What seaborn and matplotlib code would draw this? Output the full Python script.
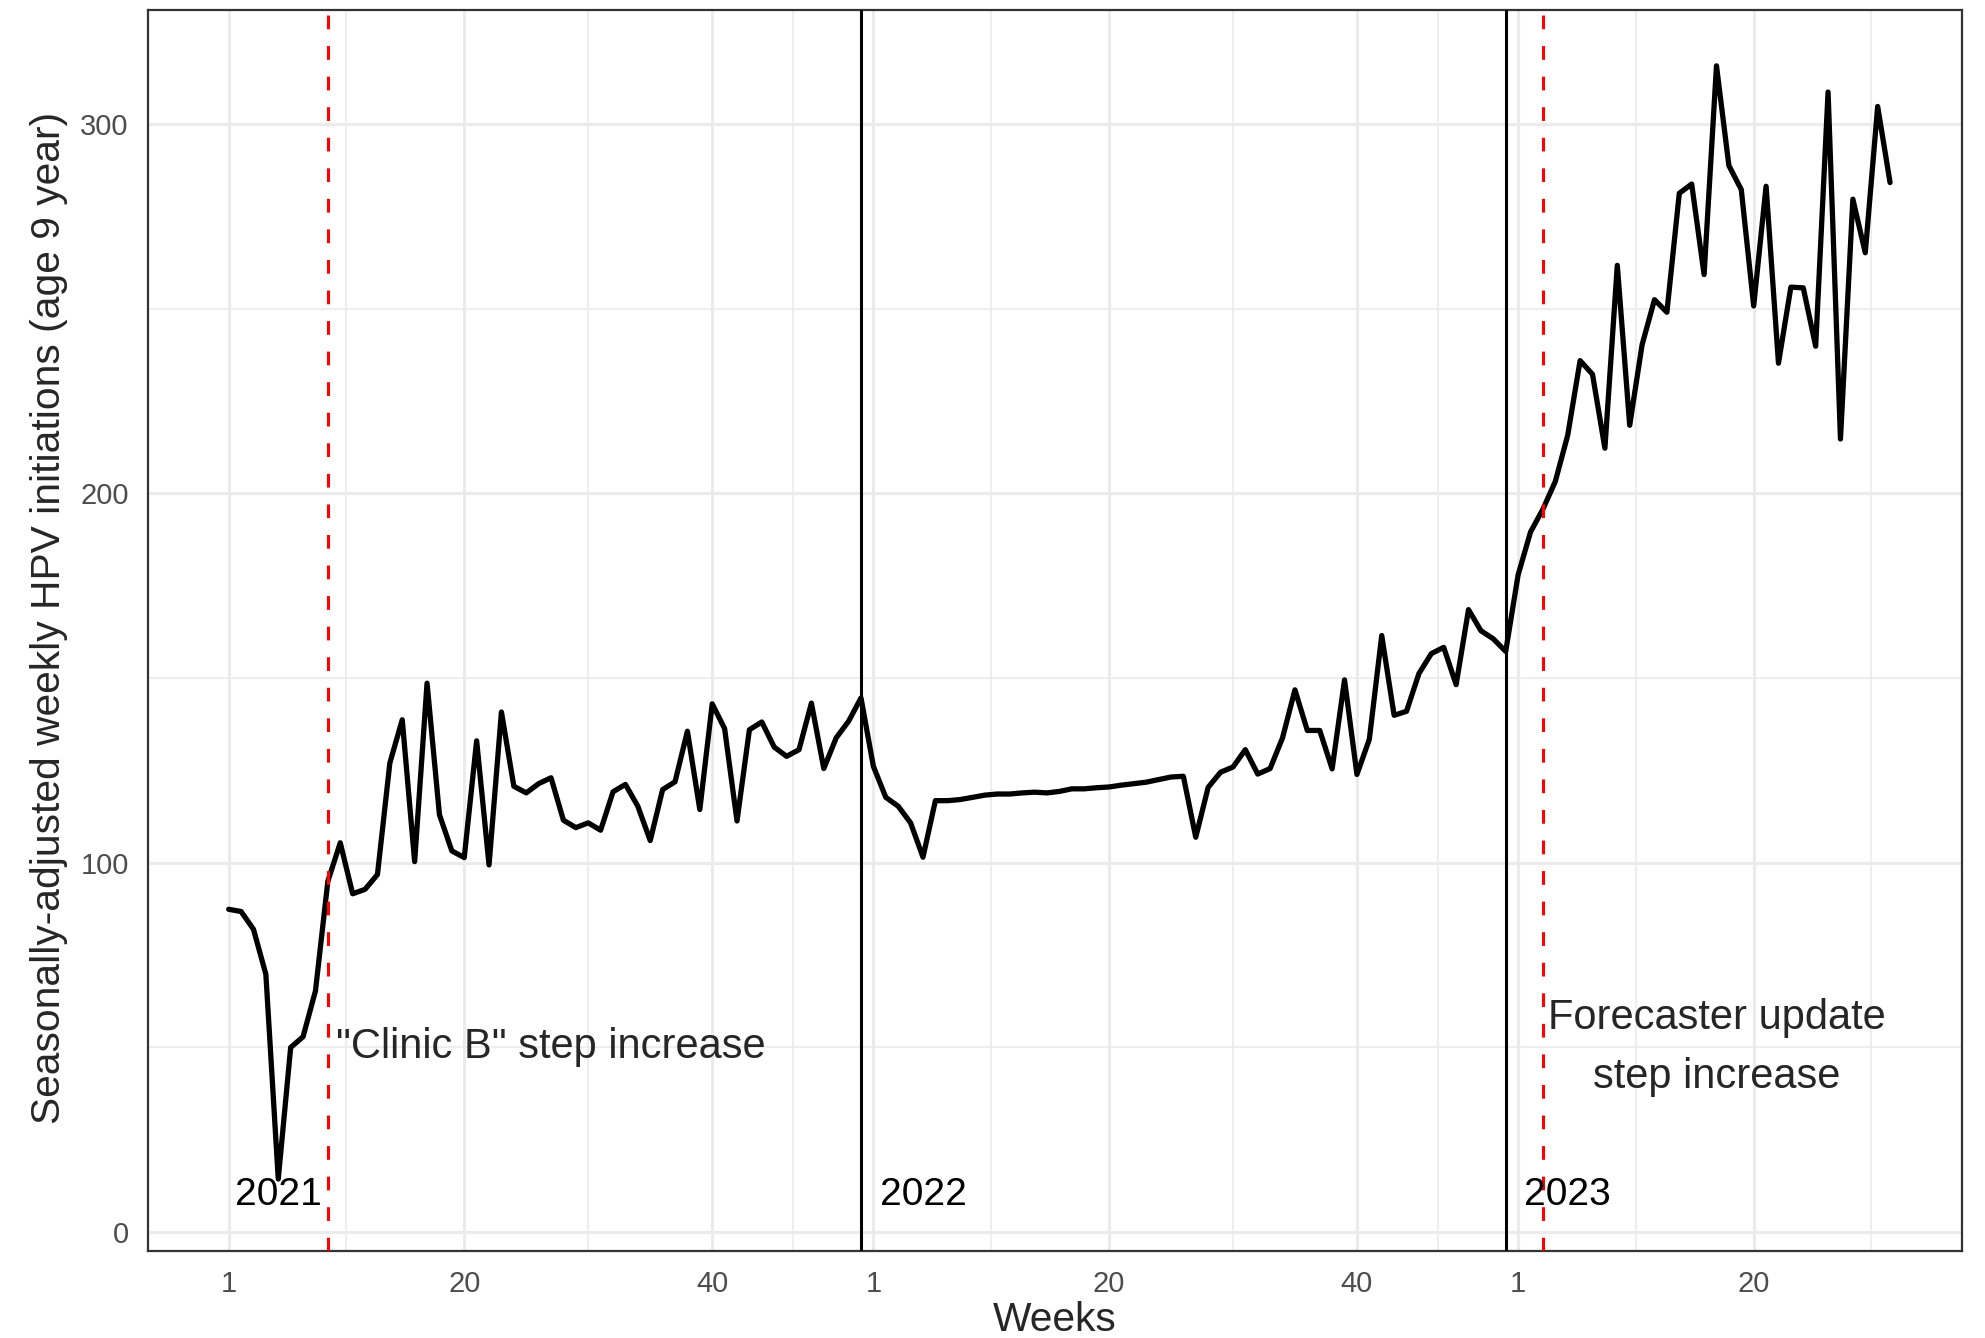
import numpy as np
import pandas as pd
import matplotlib
matplotlib.use("Agg")
import matplotlib.pyplot as plt
import seaborn as sns

sns.set_style("white")
plt.rcParams['font.family'] = ['Liberation Sans', 'DejaVu Sans']

# Weekly series: 2021 = weeks 1-52, 2022 = 53-104, 2023 = 105-135
week_index = np.arange(1, 136)
initiations = [
    87.4, 86.8, 82.0, 69.8, 14.4, 50.0, 52.9, 65.3, 95.0, 105.4,
    91.6, 92.8, 96.8, 127.0, 138.7, 100.3, 148.6, 113.0, 103.2, 101.4,
    133.0, 99.4, 140.8, 120.7, 118.9, 121.4, 123.0, 111.5, 109.5, 110.8,
    108.8, 119.2, 121.2, 115.3, 106.0, 119.8, 121.9, 135.6, 114.4, 143.0,
    136.3, 111.3, 136.0, 138.1, 131.3, 128.8, 130.6, 143.2, 125.5, 133.8,
    138.3, 144.6, 126.1, 117.7, 115.3, 110.8, 101.5, 116.8, 116.8, 117.1,
    117.7, 118.3, 118.6, 118.6, 118.9, 119.1, 118.9, 119.3, 120.0, 120.0,
    120.3, 120.5, 121.0, 121.4, 121.8, 122.5, 123.2, 123.4, 106.9, 120.4,
    124.5, 125.9, 130.6, 124.0, 125.5, 133.8, 146.8, 135.8, 135.8, 125.4,
    149.5, 123.9, 133.4, 161.5, 139.9, 141.0, 151.2, 156.6, 158.3, 148.2,
    168.5, 162.8, 160.6, 157.2, 177.9, 189.5, 195.7, 203.2, 215.7, 235.9,
    232.2, 212.2, 261.7, 218.4, 240.2, 252.4, 249.0, 281.2, 283.7, 259.2,
    315.7, 288.7, 282.2, 250.7, 283.1, 235.2, 255.8, 255.6, 239.8, 308.6,
    214.7, 279.6, 265.1, 304.7, 284.1,
]

tick_pos = [1, 20, 40, 53, 72, 92, 105, 124]
tick_labels = ['1', '20', '40', '1', '20', '40', '1', '20']
minor_x = [10.5, 30, 46.5, 62.5, 82, 98.5, 114.5, 133.5]

year_breaks = [52, 104]
step_lines = [9, 107]
year_labels = ['2021', '2022', '2023']
year_label_x = [5, 57, 109]

df = pd.DataFrame({'week': week_index, 'value': initiations})

fig = plt.figure(figsize=(9.925, 6.69), dpi=200)
ax = fig.add_axes([0.0746, 0.065, 0.9138, 0.9275])

# grid (theme_bw look)
for y in [50, 150, 250]:
    ax.axhline(y, color='#EBEBEB', lw=0.6, zorder=0)
for y in [0, 100, 200, 300]:
    ax.axhline(y, color='#EBEBEB', lw=1.1, zorder=0)
for x in minor_x:
    ax.axvline(x, color='#EBEBEB', lw=0.6, zorder=0)
for x in tick_pos:
    ax.axvline(x, color='#EBEBEB', lw=1.1, zorder=0)

sns.lineplot(data=df, x='week', y='value', color='black', linewidth=1.9, ax=ax, zorder=3)

for x in year_breaks:
    ax.axvline(x, color='black', lw=1.1, zorder=4)
for x in step_lines:
    ax.axvline(x, color='red', lw=1.1, linestyle=(0, (4.5, 5.5)), zorder=4)

for lab, x in zip(year_labels, year_label_x):
    ax.text(x, 10, lab, ha='center', va='center', fontsize=14, color='black', zorder=5)

ax.text(27, 50, '"Clinic B" step increase', ha='center', va='center', fontsize=15)
ax.text(121, 50, 'Forecaster update\nstep increase', ha='center', va='center',
        fontsize=15, linespacing=1.6)

ax.set_xlim(-5.5, 140.8)
ax.set_ylim(-5.1, 330.8)
ax.set_xticks(tick_pos)
ax.set_xticklabels(tick_labels)
ax.set_yticks([0, 100, 200, 300])
ax.tick_params(axis='both', colors='#333333', labelcolor='#4D4D4D', labelsize=10.5,
               length=4, width=0.8, direction='out', pad=3)
ax.set_xlabel('Weeks', fontsize=14.7, labelpad=1)
ax.set_ylabel('Seasonally-adjusted weekly HPV initiations (age 9 year)', fontsize=14.7)
ax.yaxis.set_label_coords(-0.044, 0.51)

for s in ax.spines.values():
    s.set_color('#333333')
    s.set_linewidth(0.8)

fig.savefig('out.png', dpi=200)
